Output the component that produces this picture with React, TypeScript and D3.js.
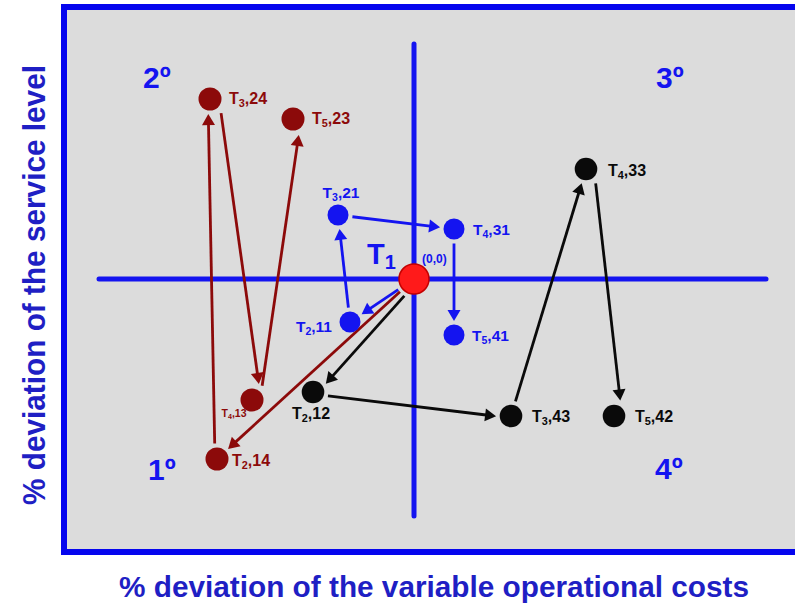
import React from "react";
import * as d3 from "d3";

// Deviation of each stage relative to the reference point T1 (0,0), in % units.
// x: deviation of the variable operational costs, y: deviation of the service level.
const originName = "T1";

const blueRouteNames = ["T2,11", "T3,21", "T4,31", "T5,41"];
const blueRouteX = [-3.2, -3.8, 2.0, 2.0];
const blueRouteY = [-2.15, 3.2, 2.5, -2.8];

const redRouteNames = ["T2,14", "T3,24", "T4,13", "T5,23"];
const redRouteX = [-9.85, -10.2, -8.1, -6.05];
const redRouteY = [-9.0, 9.0, -6.05, 8.0];

const blackRouteNames = ["T2,12", "T3,43", "T4,33", "T5,42"];
const blackRouteX = [-5.05, 4.85, 8.6, 10.0];
const blackRouteY = [-5.65, -6.85, 5.5, -6.85];

const quadrantNames = ["1º", "2º", "3º", "4º"];
const quadrantX = [-13.3, -13.55, 12.1, 12.05];
const quadrantY = [-10.05, 9.55, 9.55, -10.0];

const axisXExtent = [-15.75, 17.6];
const axisYExtent = [-11.85, 11.75];

const xTitle = "% deviation of the variable operational costs";
const yTitle = "% deviation of the service level";

const W = 795;
const H = 611;

const BLUE = "#1414f0";
const TITLE_BLUE = "#1f1fc4";
const DARK_RED = "#8c0a0a";
const BLACK = "#0a0a0a";
const FONT = "'Liberation Sans', Arial, Helvetica, sans-serif";

const x = d3.scaleLinear().domain([-10, 10]).range([214, 614]);
const y = d3.scaleLinear().domain([-10, 10]).range([479, 79]);

type Pt = { name: string; x: number; y: number };

function buildRoute(names: string[], xs: number[], ys: number[]): Pt[] {
  return [{ name: originName, x: 0, y: 0 }].concat(
    names.map((n, i) => ({ name: n, x: xs[i], y: ys[i] }))
  );
}

// Label layout for each stage point: offset from the mark and anchor.
const labelLayout: Record<string, { dx: number; dy: number; anchor: string; size: number }> = {
  "T2,11": { dx: -18, dy: 10, anchor: "end", size: 15.5 },
  "T3,21": { dx: 3, dy: -17, anchor: "middle", size: 15.5 },
  "T4,31": { dx: 19, dy: 6, anchor: "start", size: 15.5 },
  "T5,41": { dx: 18, dy: 6, anchor: "start", size: 15.5 },
  "T2,14": { dx: 15, dy: 7, anchor: "start", size: 16 },
  "T3,24": { dx: 19, dy: 5, anchor: "start", size: 16 },
  "T4,13": { dx: -18, dy: 17, anchor: "middle", size: 10.5 },
  "T5,23": { dx: 19, dy: 5, anchor: "start", size: 16 },
  "T2,12": { dx: -2, dy: 27, anchor: "middle", size: 16 },
  "T3,43": { dx: 21, dy: 6, anchor: "start", size: 16 },
  "T4,33": { dx: 22, dy: 7, anchor: "start", size: 16 },
  "T5,42": { dx: 21, dy: 6, anchor: "start", size: 16 },
};

const routes = [
  { pts: buildRoute(blueRouteNames, blueRouteX, blueRouteY), color: BLUE, r: 10.5, offsets: [0, 0, 0, 0] },
  { pts: buildRoute(redRouteNames, redRouteX, redRouteY), color: DARK_RED, r: 11.5, offsets: [0, -2, -9, 8] },
  { pts: buildRoute(blackRouteNames, blackRouteX, blackRouteY), color: BLACK, r: 11.3, offsets: [-4, 2, 0, -8] },
];

const ORIGIN_R = 15;

function Arrow({ a, b, ra, rb, offset, color }: { a: Pt; b: Pt; ra: number; rb: number; offset: number; color: string }) {
  const ax = x(a.x), ay = y(a.y), bx = x(b.x), by = y(b.y);
  const dx = bx - ax, dy = by - ay;
  const len = Math.hypot(dx, dy);
  const ux = dx / len, uy = dy / len;
  const px = -uy, py = ux;
  const sx = ax + ux * (ra + 4) + px * offset;
  const sy = ay + uy * (ra + 4) + py * offset;
  const tx = bx - ux * (rb + 3.5) + px * offset;
  const ty = by - uy * (rb + 3.5) + py * offset;
  const L = 11, HW = 6.5;
  const bxx = tx - ux * L, byy = ty - uy * L;
  const lx = tx - ux * (L - 1), ly = ty - uy * (L - 1);
  const head = `M${tx},${ty}L${bxx + px * HW},${byy + py * HW}L${bxx - px * HW},${byy - py * HW}Z`;
  return (
    <g>
      <line x1={sx} y1={sy} x2={lx} y2={ly} stroke={color} strokeWidth={2.8} />
      <path d={head} fill={color} />
    </g>
  );
}

function StageLabel({ p, color }: { p: Pt; color: string }) {
  const lay = labelLayout[p.name];
  const step = p.name.slice(1, 2);
  const code = p.name.slice(3);
  const s = lay.size;
  return (
    <text
      x={x(p.x) + lay.dx}
      y={y(p.y) + lay.dy}
      textAnchor={lay.anchor as any}
      fontFamily={FONT}
      fontWeight="bold"
      fontSize={s}
      fill={color}
    >
      <tspan>T</tspan>
      <tspan fontSize={s * 0.68} dy={s * 0.2}>{step}</tspan>
      <tspan dy={-s * 0.2}>,{code}</tspan>
    </text>
  );
}

export default function App() {
  const x0 = x(0), y0 = y(0);
  return (
    <svg
      width={W}
      height={H}
      style={{ position: "absolute", left: 0, top: 0, display: "block", background: "#ffffff" }}
    >
      {/* plot frame */}
      <rect x={64} y={7} width={800} height={545} fill="#dcdcdc" stroke="#0505ee" strokeWidth={6} />

      {/* quadrant axes through the reference point */}
      <line x1={x(axisXExtent[0])} x2={x(axisXExtent[1])} y1={y0} y2={y0} stroke={BLUE} strokeWidth={5} strokeLinecap="round" />
      <line x1={x0} x2={x0} y1={y(axisYExtent[1])} y2={y(axisYExtent[0])} stroke={BLUE} strokeWidth={5} strokeLinecap="round" />

      {/* quadrant numbers */}
      {quadrantNames.map((q, i) => (
        <text
          key={q}
          x={x(quadrantX[i])}
          y={y(quadrantY[i])}
          fontFamily={FONT}
          fontWeight="bold"
          fontSize={30}
          fill={BLUE}
        >
          {q}
        </text>
      ))}

      {/* routes */}
      {routes.map((rt, ri) => (
        <g key={ri}>
          {rt.pts.slice(1).map((p, i) => (
            <Arrow
              key={p.name}
              a={rt.pts[i]}
              b={p}
              ra={i === 0 ? ORIGIN_R : rt.r}
              rb={rt.r}
              offset={rt.offsets[i]}
              color={rt.color}
            />
          ))}
        </g>
      ))}
      {routes.map((rt, ri) => (
        <g key={"p" + ri}>
          {rt.pts.slice(1).map((p) => (
            <g key={p.name}>
              <circle cx={x(p.x)} cy={y(p.y)} r={rt.r} fill={rt.color} />
              <StageLabel p={p} color={rt.color} />
            </g>
          ))}
        </g>
      ))}

      {/* reference point T1 */}
      <circle cx={x0} cy={y0} r={ORIGIN_R} fill="#ff1a1a" stroke="#c40000" strokeWidth={1.5} />
      <text x={x0 - 47} y={y0 - 15} fontFamily={FONT} fontWeight="bold" fontSize={29} fill={BLUE}>
        <tspan>T</tspan>
        <tspan fontSize={20} dy={5}>1</tspan>
      </text>
      <text x={x0 + 8} y={y0 - 16} fontFamily={FONT} fontWeight="bold" fontSize={12} fill={BLUE}>
        (0,0)
      </text>

      {/* axis titles */}
      <text
        x={434}
        y={597}
        textAnchor="middle"
        fontFamily={FONT}
        fontWeight="bold"
        fontSize={30}
        fill={TITLE_BLUE}
        textLength={630}
        lengthAdjust="spacingAndGlyphs"
      >
        {xTitle}
      </text>
      <text
        transform={`translate(45,285) rotate(-90)`}
        textAnchor="middle"
        fontFamily={FONT}
        fontWeight="bold"
        fontSize={31}
        fill={TITLE_BLUE}
        textLength={440}
        lengthAdjust="spacingAndGlyphs"
      >
        {yTitle}
      </text>
    </svg>
  );
}
